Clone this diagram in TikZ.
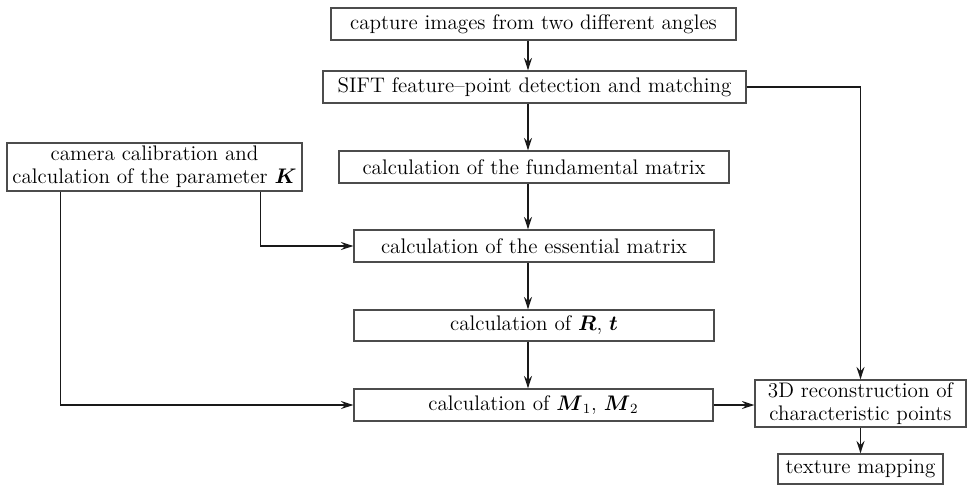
\documentclass[tikz,border=0pt]{standalone}
\usepackage{amsmath}
\usetikzlibrary{arrows.meta}
\begin{document}
\begin{tikzpicture}[x=0.02cm,y=-0.02cm,
  box/.style={draw=black!70,line width=0.75pt,inner sep=0pt,align=center,
    font=\fontsize{12}{13}\selectfont},
  flow/.style={draw=black!90,line width=0.9pt,-{Stealth[length=7pt,width=4.5pt]}}]
  \useasboundingbox (0,0) rectangle (968,485);
  % main column
  \node[box,minimum width=8.1cm,minimum height=0.64cm] (cap) at (533.5,24) {capture images from two different angles};
  \node[box,minimum width=8.46cm,minimum height=0.64cm] (sift) at (534.5,87) {SIFT feature--point detection and matching};
  \node[box,minimum width=7.8cm,minimum height=0.64cm] (fund) at (534,167) {calculation of the fundamental matrix};
  \node[box,minimum width=7.2cm,minimum height=0.64cm] (ess) at (534,246) {calculation of the essential matrix};
  \node[box,minimum width=7.2cm,minimum height=0.62cm] (rt) at (534,325.5) {calculation of $\boldsymbol{R}$, $\boldsymbol{t}$};
  \node[box,minimum width=7.18cm,minimum height=0.64cm] (mm) at (533.5,405) {calculation of $\boldsymbol{M}_1$, $\boldsymbol{M}_2$};
  \coordinate (axis) at (528,0);
  % side boxes
  \node[box,minimum width=5.9cm,minimum height=0.96cm] (calib) at (154.5,167) {camera calibration and\\calculation of the parameter $\boldsymbol{K}$};
  \node[box,minimum width=4.22cm,minimum height=0.94cm] (rec) at (860.5,403.5) {3D reconstruction of\\characteristic points};
  \node[box,minimum width=3.3cm,minimum height=0.6cm] (tex) at (860.5,469) {texture mapping};
  % connectors
  \draw[flow] (cap.south -| axis) -- (sift.north -| axis);
  \draw[flow] (sift.south -| axis) -- (fund.north -| axis);
  \draw[flow] (fund.south -| axis) -- (ess.north -| axis);
  \draw[flow] (ess.south -| axis) -- (rt.north -| axis);
  \draw[flow] (rt.south -| axis) -- (mm.north -| axis);
  \draw[flow] ([xshift=-8.4mm]calib.south east) |- (ess.west);
  \draw[flow] ([xshift=10.8mm]calib.south west) |- (mm.west);
  \draw[flow] (sift.east) -| (rec.north);
  \draw[flow] (mm.east) -- (mm.east -| rec.west);
  \draw[flow] (rec.south) -- (tex.north);
\end{tikzpicture}
\end{document}
